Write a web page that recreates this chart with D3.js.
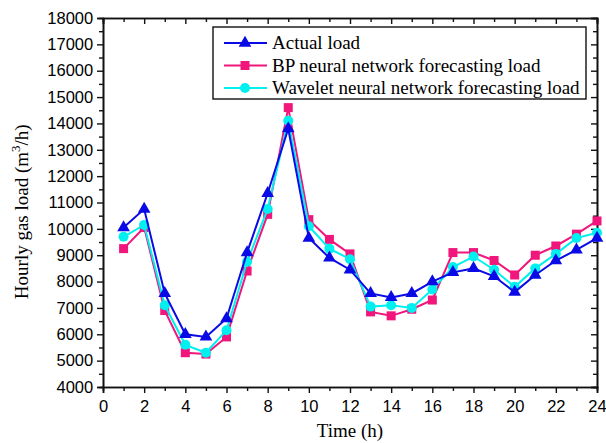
<!DOCTYPE html>
<html lang="en">
<head>
  <meta charset="UTF-8">
  <title>Hourly gas load</title>
  <script src="https://d3js.org/d3.v7.min.js"></script>
  <style>
    body { margin: 0; background: #fff; }
    svg { display: block; }
    .tick-label { font-family: "Liberation Sans", Arial, sans-serif; font-size: 16.5px; fill: #000; }
    .title { font-family: "Liberation Serif", "Times New Roman", serif; font-size: 19px; fill: #000; }
  </style>
</head>
<body>
  <div id="chart"></div>
  <script>
    const hours = d3.range(1, 25);
    const actual = [10050, 10750, 7550, 6000, 5900, 6600, 9100, 11350, 13800, 9650, 8900, 8450,
                    7550, 7400, 7550, 8000, 8350, 8500, 8200, 7600, 8250, 8800, 9200, 9650];
    const bp = [9250, 10050, 6900, 5300, 5250, 5900, 8400, 10550, 14600, 10350, 9600, 9050,
                6850, 6700, 6950, 7300, 9100, 9100, 8800, 8250, 9000, 9350, 9800, 10300];
    const wavelet = [9700, 10150, 7100, 5600, 5300, 6150, 8750, 10750, 14100, 10100, 9250, 8850,
                     7050, 7100, 7000, 7700, 8550, 8950, 8450, 7800, 8500, 9050, 9650, 9850];
    const xTicks = d3.range(0, 25, 2);
    const yTicks = d3.range(4000, 18001, 1000);

    const series = [
      { name: 'BP neural network forecasting load', values: bp, color: '#f0167c', marker: 'square' },
      { name: 'Wavelet neural network forecasting load', values: wavelet, color: '#00f0f0', marker: 'circle' },
      { name: 'Actual load', values: actual, color: '#0a0ae6', marker: 'triangle' }
    ];
    const legendOrder = [series[2], series[0], series[1]];

    const W = 606, H = 443;
    const m = { left: 103, right: 9, top: 18, bottom: 56 };
    const svg = d3.select('#chart').append('svg').attr('width', W).attr('height', H);

    const x = d3.scaleLinear().domain([0, 24]).range([m.left, W - m.right]);
    const y = d3.scaleLinear().domain([4000, 18000]).range([H - m.bottom, m.top]);

    const axisColor = '#111';

    // bottom axis (outside ticks)
    const gx = svg.append('g').attr('transform', `translate(0,${y(4000)})`);
    gx.call(d3.axisBottom(x).tickValues(xTicks).tickSize(6).tickFormat(d3.format('d')));
    gx.append('g').call(d3.axisBottom(x).tickValues(d3.range(1, 24, 2)).tickSize(4).tickFormat(''));
    // left axis
    const gy = svg.append('g').attr('transform', `translate(${x(0)},0)`);
    gy.call(d3.axisLeft(y).tickValues(yTicks).tickSize(6).tickFormat(d3.format('d')));
    gy.append('g').call(d3.axisLeft(y).tickValues(d3.range(4500, 18000, 1000)).tickSize(4).tickFormat(''));
    // top axis (inside ticks)
    const gt = svg.append('g').attr('transform', `translate(0,${y(18000)})`);
    gt.call(d3.axisBottom(x).tickValues(xTicks).tickSize(6).tickFormat(''));
    gt.append('g').call(d3.axisBottom(x).tickValues(d3.range(1, 24, 2)).tickSize(4).tickFormat(''));
    // right axis (inside ticks)
    const gr = svg.append('g').attr('transform', `translate(${x(24)},0)`);
    gr.call(d3.axisLeft(y).tickValues(yTicks).tickSize(6).tickFormat(''));
    gr.append('g').call(d3.axisLeft(y).tickValues(d3.range(4500, 18000, 1000)).tickSize(4).tickFormat(''));

    svg.selectAll('.domain').attr('stroke', axisColor).attr('stroke-width', 1.6);
    svg.selectAll('.tick line').attr('stroke', axisColor).attr('stroke-width', 1.4);
    svg.selectAll('.tick text').attr('class', 'tick-label').attr('fill', '#000');
    gx.selectAll('.tick text').attr('dy', '0.95em');
    gy.selectAll('.tick text').attr('dx', '-0.05em');

    // series
    const line = d3.line().x((d, i) => x(hours[i])).y(d => y(d));

    function drawMarker(g, type, color, cx, cy) {
      if (type === 'square') {
        g.append('rect').attr('x', cx - 4.5).attr('y', cy - 4.5).attr('width', 9).attr('height', 9).attr('fill', color);
      } else if (type === 'circle') {
        g.append('circle').attr('cx', cx).attr('cy', cy).attr('r', 5).attr('fill', color);
      } else {
        g.append('path')
          .attr('d', d3.symbol().type(d3.symbolTriangle).size(70)())
          .attr('transform', `translate(${cx},${cy})`)
          .attr('fill', color);
      }
    }

    series.forEach(s => {
      const g = svg.append('g');
      g.append('path').datum(s.values).attr('d', line)
        .attr('fill', 'none').attr('stroke', s.color).attr('stroke-width', 2);
      s.values.forEach((v, i) => drawMarker(g, s.marker, s.color, x(hours[i]), y(v)));
    });

    // legend
    const lg = svg.append('g').attr('transform', 'translate(213,27)');
    lg.append('rect').attr('width', 373).attr('height', 72)
      .attr('fill', '#fff').attr('stroke', axisColor).attr('stroke-width', 1.4);
    legendOrder.forEach((s, i) => {
      const yy = 16 + i * 22.5;
      lg.append('line').attr('x1', 11).attr('x2', 54).attr('y1', yy).attr('y2', yy)
        .attr('stroke', s.color).attr('stroke-width', 2);
      drawMarker(lg, s.marker, s.color, 32, yy);
      lg.append('text').attr('class', 'title').attr('x', 59).attr('y', yy + 6).text(s.name);
    });

    // axis titles
    svg.append('text').attr('class', 'title').attr('text-anchor', 'middle')
      .attr('font-size', 20)
      .attr('x', x(12)).attr('y', 437).text('Time (h)');
    const yt = svg.append('text').attr('class', 'title').attr('text-anchor', 'middle')
      .attr('font-size', 21)
      .attr('transform', `translate(28,${y(10650)}) rotate(-90)`);
    yt.append('tspan').text('Hourly gas load (m');
    yt.append('tspan').attr('font-size', 13).attr('dy', -8).text('3');
    yt.append('tspan').attr('dy', 8).text('/h)');
  </script>
</body>
</html>
